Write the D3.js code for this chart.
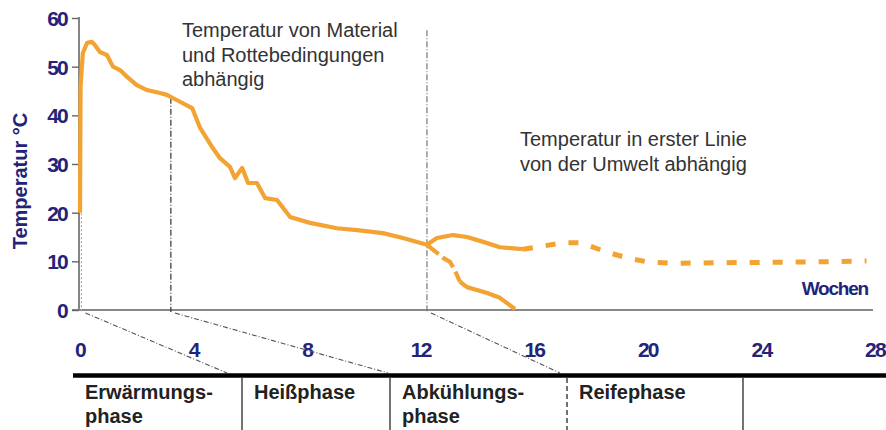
<!DOCTYPE html>
<html><head><meta charset="utf-8">
<script src="https://cdn.jsdelivr.net/npm/d3@7"></script>
<style>html,body{margin:0;padding:0;background:#fff;}svg{display:block;}</style>
</head><body>
<script>
// ---------- data ----------
const xTicks = [0, 4, 8, 12, 16, 20, 24, 28];
const yTicks = [0, 10, 20, 30, 40, 50, 60];
const mainWeeks = [0,0.02,0.1,0.25,0.42,0.53,0.7,0.95,1.16,1.41,1.66,2.0,2.36,2.82,3.06,3.42,3.95,4.23,4.65,4.93,5.28,5.46,5.71,5.92,6.23,6.52,6.94,7.4,8.1,9.05,9.76,10.67,11.37,12.22];
const mainTemps = [20,46,52.8,54.9,55.1,54.4,53,52.4,50,49.3,47.9,46.2,45.2,44.6,44.2,43.1,41.5,37.4,33.5,31.2,29.4,27.1,29.2,26.1,26.1,23,22.6,19.1,17.9,16.8,16.4,15.8,14.8,13.4];
const upperWeeks = [12.22,12.57,13.14,13.63,14.2,14.79,15.6];
const upperTemps = [13.4,14.8,15.4,15.0,14.0,12.9,12.5];
const upperDashWeeks = [15.6,15.96,17.0,17.6,18.07,18.56,19.27,19.97,20.9,22.5,24.3,26.1,27.7];
const upperDashTemps = [12.5,12.8,13.8,13.8,12.9,11.9,10.7,9.9,9.6,9.7,9.8,9.9,10.1];
const lowerDashWeeks = [12.22,12.79,13.03,13.2,13.38];
const lowerDashTemps = [13.4,10.7,9.9,8.2,5.8];
const lowerWeeks = [13.38,13.63,14.34,14.79,15.32];
const lowerTemps = [5.8,4.7,3.5,2.5,0.2];
const markerWeeks = [0.05, 3.2, 12.22];
const markerTops = [47, 43.6, 57.5];
const phaseNames = [["Erwärmungs-","phase"],["Heißphase"],["Abkühlungs-","phase"],["Reifephase"],[]];
const note1 = ["Temperatur von Material","und Rottebedingungen","abhängig"];
const note2 = ["Temperatur in erster Linie","von der Umwelt abhängig"];
const yTitle = "Temperatur °C";
const xTitle = "Wochen";

// ---------- layout ----------
const W = 886, H = 430;
const navy = "#23237a", orange = "#f2a332";
const tableEdges = [73, 242, 390, 567, 743, 886];
const diagEnds = [227, 388, 560];
const dividerDash = [null, null, "5,3", null];

const svg = d3.select("body").append("svg").attr("width", W).attr("height", H)
  .style("font-family", "'Liberation Sans', Arial, sans-serif");

const x = d3.scaleLinear().domain([0, 28]).range([80, 875]);
const y = d3.scaleLinear().domain([0, 60]).range([310, 18]);

// axes lines
svg.append("line").attr("x1", 79).attr("x2", 79).attr("y1", y(60) - 1).attr("y2", y(0))
  .attr("stroke", "#666").attr("stroke-width", 1.6);
svg.append("line").attr("x1", 72).attr("x2", 873).attr("y1", y(0)).attr("y2", y(0))
  .attr("stroke", "#888").attr("stroke-width", 2);

// y axis via d3
const yAxis = d3.axisLeft(y).tickValues(yTicks).tickSize(7).tickPadding(5);
const gy = svg.append("g").attr("transform", "translate(79,0)").call(yAxis);
gy.select(".domain").remove();
gy.selectAll(".tick line").attr("stroke", "#666").attr("stroke-width", 1.4);
gy.selectAll(".tick text").attr("fill", navy).style("font-size", "21px").style("font-weight", "bold")
  .style("letter-spacing", "-1.8px").attr("dy", "0.36em");

// x tick labels row
svg.append("g").selectAll("text").data(xTicks).join("text")
  .attr("x", d => x(d)).attr("y", 357).attr("text-anchor", "middle")
  .attr("fill", navy).style("font-size", "21px").style("font-weight", "bold")
  .style("letter-spacing", "-1.8px").text(d => d);

// marker vertical lines
const mStyles = [{c:"#aaa", d:"2,2"}, {c:"#333", d:"6,2,1,2"}, {c:"#777", d:"6,2,1,2"}];
markerWeeks.forEach((w, i) => {
  svg.append("line").attr("x1", x(w)).attr("x2", x(w)).attr("y1", y(markerTops[i])).attr("y2", y(0) + 2)
    .attr("stroke", mStyles[i].c).attr("stroke-width", 1.2).attr("stroke-dasharray", mStyles[i].d);
  svg.append("line").attr("x1", x(w) + 4).attr("y1", y(0) + 3).attr("x2", diagEnds[i]).attr("y2", 373)
    .attr("stroke", "#555").attr("stroke-width", 1.1).attr("stroke-dasharray", "5,2,1,2");
});

// curves
const line = d3.line().x(d => x(d[0])).y(d => y(d[1]));
const zip = (a, b) => a.map((v, i) => [v, b[i]]);
function drawCurve(ws, ts, dash, sw) {
  svg.append("path").datum(zip(ws, ts)).attr("d", line).attr("fill", "none")
    .attr("stroke", orange).attr("stroke-width", sw || 4.2).attr("stroke-linejoin", "round")
    .attr("stroke-dasharray", dash);
}
drawCurve(mainWeeks, mainTemps, null);
drawCurve(upperWeeks, upperTemps, null);
drawCurve(upperDashWeeks, upperDashTemps, "10,13", 5);
drawCurve(lowerDashWeeks, lowerDashTemps, "15,5");
drawCurve(lowerWeeks, lowerTemps, null);

// annotations
const n1 = svg.append("text").attr("fill", "#333").style("font-size", "20px");
note1.forEach((t, i) => n1.append("tspan").attr("x", 182).attr("y", 37 + i * 24.5).text(t));
const n2 = svg.append("text").attr("fill", "#333").style("font-size", "20px");
note2.forEach((t, i) => n2.append("tspan").attr("x", 520).attr("y", 146 + i * 25).text(t));

// axis titles
svg.append("text").attr("transform", "translate(27,181) rotate(-90)").attr("text-anchor", "middle")
  .attr("fill", navy).style("font-size", "20px").style("font-weight", "bold").text(yTitle);
svg.append("text").attr("x", 868).attr("y", 295).attr("text-anchor", "end")
  .attr("fill", navy).style("font-size", "19px").style("font-weight", "bold")
  .style("letter-spacing", "-1.2px").text(xTitle);

// phase table
svg.append("line").attr("x1", tableEdges[0]).attr("x2", W).attr("y1", 375.5).attr("y2", 375.5)
  .attr("stroke", "#000").attr("stroke-width", 4.5);
tableEdges.slice(1, 5).forEach((e, i) => {
  svg.append("line").attr("x1", e).attr("x2", e).attr("y1", 378).attr("y2", H)
    .attr("stroke", "#444").attr("stroke-width", 1.5).attr("stroke-dasharray", dividerDash[i]);
});
phaseNames.forEach((lines, i) => {
  const t = svg.append("text").attr("fill", "#222").style("font-size", "20px").style("font-weight", "bold");
  lines.forEach((s, j) => t.append("tspan").attr("x", tableEdges[i] + 12).attr("y", 399 + j * 24).text(s));
});
</script>
</body></html>
